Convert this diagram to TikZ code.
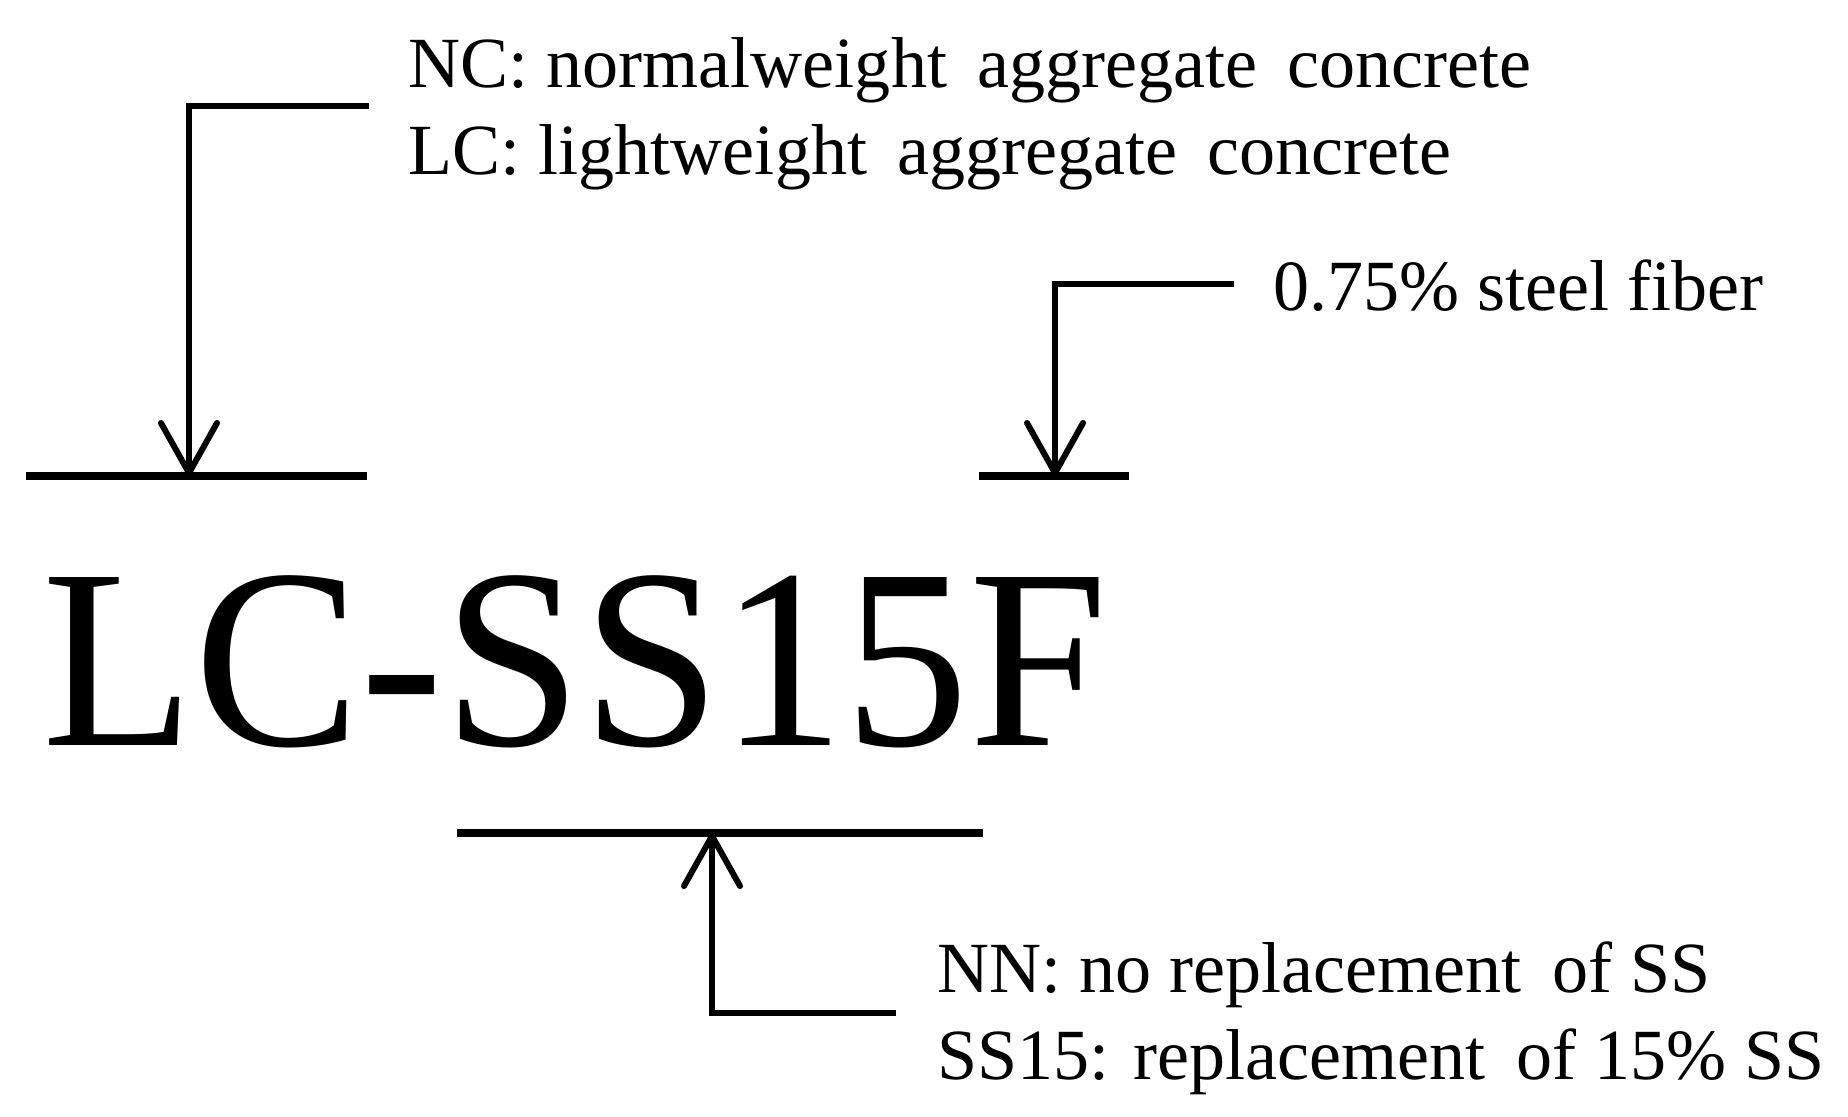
\documentclass[tikz,border=0pt]{standalone}
\usepackage{fontspec}
\setmainfont{Liberation Serif}
\usetikzlibrary{arrows.meta}

\newcommand{\wide}{\hspace{0.42em}}
\tikzset{
  code text/.style={anchor=base west, inner sep=0pt, font=\fontsize{73}{80}\selectfont},
  label text/.style={anchor=base west, inner sep=0pt, font=\fontsize{20.5}{25}\selectfont},
  bar/.style={line width=0.08cm},
  lead/.style={line width=0.06cm, -{Straight Barb[length=5mm,width=5.6mm,round]}},
}

\begin{document}
\begin{tikzpicture}
\useasboundingbox (0,0) rectangle (18.48,11.16);
% specimen code
\node[code text] (code) at (0.42,3.71) {\scalebox{0.97}[1]{LC-SS15F}};
% explanations
\node[label text] (nc) at (4.08,10.29) {NC: normalweight\wide aggregate\wide concrete};
\node[label text] (lc) at (4.08,9.41) {LC: lightweight\wide aggregate\wide concrete};
\node[label text] (fiber) at (12.73,8.06) {0.75\% steel fiber};
\node[label text] (nn) at (9.37,1.24) {NN: no replacement\wide of SS};
\node[label text] (ss) at (9.37,0.37) {SS15: replacement\wide of 15\% SS};
% bars over the code
\coordinate (concrete l) at (0.26,6.40);
\coordinate (concrete r) at (3.67,6.40);
\coordinate (concrete) at (1.89,6.40);
\coordinate (fiber l) at (9.79,6.40);
\coordinate (fiber r) at (11.29,6.40);
\coordinate (fiber bar) at (10.55,6.40);
\coordinate (slag l) at (4.57,2.83);
\coordinate (slag r) at (9.83,2.83);
\coordinate (slag) at (7.12,2.83);
\draw[bar] (concrete l) -- (concrete r);
\draw[bar] (fiber l) -- (fiber r);
\draw[bar] (slag l) -- (slag r);
% leaders
\coordinate (nc end) at ([xshift=-3.9mm,yshift=-1.9mm]nc.base west);
\coordinate (fiber end) at ([xshift=-3.9mm,yshift=2.6mm]fiber.base west);
\coordinate (nn end) at ([xshift=-4.1mm,yshift=-2.1mm]nn.base west);
\draw[lead] (nc end) -| (concrete);
\draw[lead] (fiber end) -| (fiber bar);
\draw[lead] (nn end) -| (slag);
\end{tikzpicture}
\end{document}
